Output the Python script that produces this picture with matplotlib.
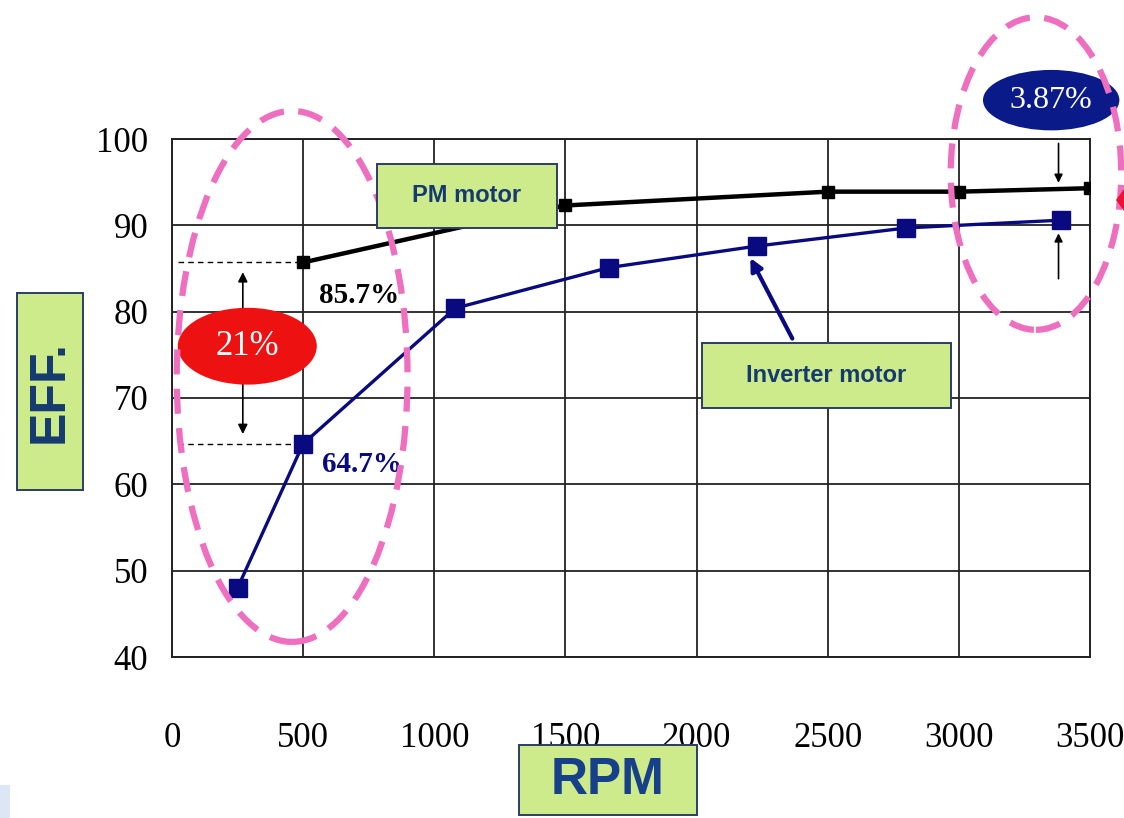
import matplotlib
matplotlib.use("Agg")
import matplotlib.pyplot as plt
from matplotlib.patches import Ellipse, Rectangle, Polygon

# ---- data ----
pm_rpm = [500, 1250, 1500, 2500, 3000, 3500]
pm_eff = [85.7, 90.8, 92.3, 93.9, 93.9, 94.3]
inv_rpm = [250, 500, 1080, 1665, 2230, 2800, 3390]
inv_eff = [48.0, 64.7, 80.4, 85.1, 87.6, 89.7, 90.6]
x_ticks = [0, 500, 1000, 1500, 2000, 2500, 3000, 3500]
y_ticks = [40, 50, 60, 70, 80, 90, 100]
pm_label = "PM motor"
inv_label = "Inverter motor"
gap_low = "21%"
gap_high = "3.87%"
pm_note = "85.7%"
inv_note = "64.7%"

W, H = 1124, 818
fig = plt.figure(figsize=(W / 100, H / 100), dpi=100)
fig.patch.set_facecolor("white")

def fx(px):
    return px / W

def fy(py):
    return 1 - py / H

ax = fig.add_axes([fx(172), fy(657), fx(1090) - fx(172), fy(139) - fy(657)])
ax.set_xlim(0, 3500)
ax.set_ylim(40, 100)
ax.set_xticks(x_ticks)
ax.set_yticks(y_ticks)
ax.set_xticklabels([str(v) for v in x_ticks], family="Liberation Serif", fontsize=25)
ax.set_yticklabels([str(v) for v in y_ticks], family="Liberation Serif", fontsize=25)
ax.tick_params(axis="x", length=0, pad=47)
ax.tick_params(axis="y", length=0, pad=17)
ax.grid(True, color="#222222", linewidth=1.3)
for s in ax.spines.values():
    s.set_color("#222222")
    s.set_linewidth(1.4)
ax.set_axisbelow(True)

# series
ax.plot(pm_rpm, pm_eff, color="black", linewidth=3.2, marker="s", markersize=9, zorder=4)
ax.plot(inv_rpm, inv_eff, color="#0a0a80", linewidth=2.4, marker="s", markersize=13, zorder=4)

# dashed reference lines
ax.plot([22, pm_rpm[0]], [pm_eff[0], pm_eff[0]], color="black", lw=1, ls=(0, (4, 3)), zorder=3)
ax.plot([22, inv_rpm[1]], [inv_eff[1], inv_eff[1]], color="black", lw=1, ls=(0, (4, 3)), zorder=3)

# double arrow for 21%
ax.annotate("", xy=(270, pm_eff[0] - 0.8), xytext=(270, inv_eff[1] + 0.8),
            arrowprops=dict(arrowstyle="<|-|>", color="black", lw=1.2, mutation_scale=14), zorder=5)
ax.add_patch(Ellipse((287, 76.0), 530, 8.9, facecolor="#ee1111", edgecolor="none", zorder=6, clip_on=False))
ax.text(287, 76.0, gap_low, color="white", family="Liberation Serif", fontsize=25,
        ha="center", va="center", zorder=7)

# value notes
ax.text(560, 81.9, pm_note, color="black", family="Liberation Serif", fontsize=21,
        fontweight="bold", ha="left", va="center", zorder=5)
ax.text(572, 62.3, inv_note, color="#0a0a80", family="Liberation Serif", fontsize=21,
        fontweight="bold", ha="left", va="center", zorder=5)

# right arrows
ax.annotate("", xy=(3380, pm_eff[-1] + 0.3), xytext=(3380, 99.8),
            arrowprops=dict(arrowstyle="-|>", color="black", lw=1.2, mutation_scale=12), zorder=5)
ax.annotate("", xy=(3380, inv_eff[-1] - 1.2), xytext=(3380, 83.5),
            arrowprops=dict(arrowstyle="-|>", color="black", lw=1.2, mutation_scale=12), zorder=5)

# pink dashed ellipses
ax.add_patch(Ellipse((458, 72.5), 880, 61.5, facecolor="none", edgecolor="#ee6fc0",
                     lw=4.5, ls=(0, (4, 2.3)), zorder=8, clip_on=False))
ax.add_patch(Ellipse((3294, 96.0), 650, 36.2, facecolor="none", edgecolor="#ee6fc0",
                     lw=4.5, ls=(0, (4, 2.3)), zorder=8, clip_on=False))

# blue ellipse 3.87%
ax.add_patch(Ellipse((3352, 104.5), 520, 7.0, facecolor="#0a1a88", edgecolor="none", zorder=7, clip_on=False))
ax.text(3352, 104.5, gap_high, color="white", family="Liberation Serif", fontsize=23,
        ha="center", va="center", zorder=9, clip_on=False)

# inverter motor arrow
ax.annotate("", xy=(2200, 86.5), xytext=(2370, 76.6),
            arrowprops=dict(arrowstyle="-|>", color="#0a0a80", lw=3, mutation_scale=18), zorder=5)

BOX_FC = "#cdeb8b"
BOX_EC = "#2b3d66"
TXT = "#143a70"

def box(x0, y0, x1, y1, text, size, rot=0, zorder=10, color=TXT):
    fig.patches.append(Rectangle((fx(x0), fy(y1)), fx(x1) - fx(x0), fy(y0) - fy(y1),
                                 transform=fig.transFigure, facecolor=BOX_FC,
                                 edgecolor=BOX_EC, lw=1.4, zorder=zorder))
    fig.text(fx((x0 + x1) / 2), fy((y0 + y1) / 2), text, color=color, fontsize=size,
             fontweight="bold", family="Liberation Sans", ha="center", va="center",
             rotation=rot, zorder=zorder + 1)

box(377, 164, 557, 228, pm_label, 17)
box(702, 343, 951, 408, inv_label, 17)
box(17, 293, 83, 490, "EFF.", 36, rot=90)
box(519, 745, 697, 815, "RPM", 37, color="#17408a")

# small decorative bits at the edges
fig.patches.append(Rectangle((0, 0), fx(10), fy(785), transform=fig.transFigure,
                             facecolor="#dce6f5", edgecolor="none"))
fig.patches.append(Polygon([(fx(1116), fy(200)), (fx(1124), fy(189)), (fx(1124), fy(211))],
                           closed=True, transform=fig.transFigure,
                           facecolor="#ee1133", edgecolor="none"))

fig.savefig("out.png", dpi=100)
